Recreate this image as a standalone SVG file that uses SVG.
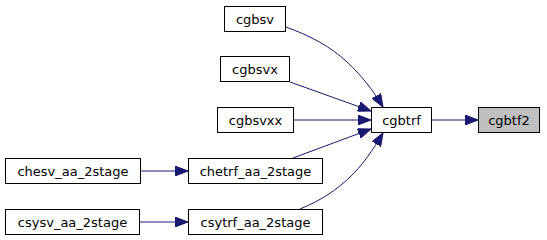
<svg xmlns="http://www.w3.org/2000/svg" width="547" height="240" viewBox="0 0 547 240">
  <style>
    .node rect { fill: #ffffff; stroke: #000000; stroke-width: 1; }
    .node.current rect { fill: #bfbfbf; }
    .node text { font-family: "DejaVu Sans", sans-serif; font-size: 13px; fill: #000000; text-anchor: middle; }
    .edge { fill: none; stroke: #191970; stroke-width: 1; marker-end: url(#arrow); }
  </style>
  <defs>
    <marker id="arrow" markerUnits="userSpaceOnUse" markerWidth="13" markerHeight="10" refX="13" refY="5" orient="auto" viewBox="0 0 13 10">
      <path d="M0,0 L13,5 L0,10 Z" fill="#191970" stroke="#191970" stroke-width="1"/>
    </marker>
  </defs>

  <g id="connectors">
    <path class="edge" d="M431,120 L478,120"/>
    <path class="edge" d="M293.5,120 L371,120"/>
    <path class="edge" d="M290,82 L371,111"/>
    <path class="edge" d="M293,158 L371,129"/>
    <path class="edge" d="M286,27 C311,36 331,47 347,62 C361,75 373,90 383,107"/>
    <path class="edge" d="M300,209 C322,200 336,190 349,178 C362,166 373,150 383,133"/>
    <path class="edge" d="M140.5,171 L188,171"/>
    <path class="edge" d="M139.5,222 L188,222"/>
  </g>

  <g id="node-cgbsv" class="node">
    <rect x="224.5" y="6.5" width="61" height="25"/>
    <text x="255" y="23.5">cgbsv</text>
  </g>
  <g id="node-cgbsvx" class="node">
    <rect x="220.5" y="56.5" width="69" height="25"/>
    <text x="255" y="73.5">cgbsvx</text>
  </g>
  <g id="node-cgbsvxx" class="node">
    <rect x="217.5" y="107.5" width="76" height="25"/>
    <text x="255.5" y="124.5">cgbsvxx</text>
  </g>
  <g id="node-chetrf_aa_2stage" class="node">
    <rect x="188.5" y="158.5" width="134" height="25"/>
    <text x="255.5" y="175.5">chetrf_aa_2stage</text>
  </g>
  <g id="node-csytrf_aa_2stage" class="node">
    <rect x="188.5" y="209.5" width="134" height="25"/>
    <text x="255.5" y="226.5">csytrf_aa_2stage</text>
  </g>
  <g id="node-chesv_aa_2stage" class="node">
    <rect x="5.5" y="158.5" width="135" height="25"/>
    <text x="73" y="175.5">chesv_aa_2stage</text>
  </g>
  <g id="node-csysv_aa_2stage" class="node">
    <rect x="5.5" y="209.5" width="134" height="25"/>
    <text x="72.5" y="226.5">csysv_aa_2stage</text>
  </g>
  <g id="node-cgbtrf" class="node">
    <rect x="371.5" y="107.5" width="60" height="25"/>
    <text x="401.5" y="124.5">cgbtrf</text>
  </g>
  <g id="node-cgbtf2" class="node current">
    <rect x="478.5" y="107.5" width="61" height="25"/>
    <text x="509" y="124.5">cgbtf2</text>
  </g>
</svg>
